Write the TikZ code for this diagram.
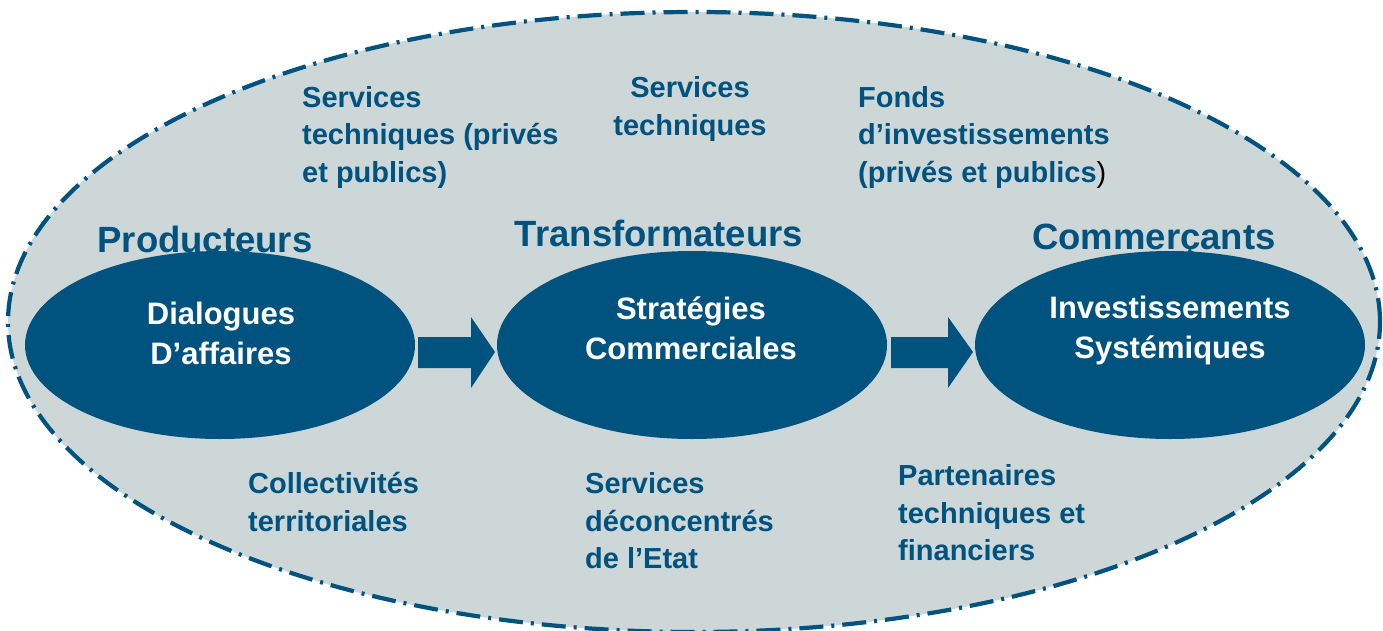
\documentclass[tikz,border=0pt]{standalone}
\usepackage{fontspec}
\setmainfont{Liberation Sans}
\usetikzlibrary{shapes.geometric}
\definecolor{dblue}{HTML}{00527F}
\definecolor{bggray}{HTML}{CDD7D8}
\tikzset{
  outerell/.style={ellipse, fill=bggray, draw=dblue, line width=4.2pt,
    dash pattern=on 24pt off 8pt on 3pt off 8pt, minimum width=1372pt, minimum height=620pt, inner sep=0pt},
  innerell/.style={ellipse, fill=dblue, draw=none, minimum width=390pt, minimum height=188pt, inner sep=0pt},
  innertxt/.style={text=white, font=\bfseries\fontsize{31}{40}\selectfont, align=center, inner sep=0pt},
  title/.style={text=dblue, font=\bfseries\fontsize{36.5}{40}\selectfont, inner sep=0pt},
  lbl/.style={text=dblue, font=\bfseries\fontsize{29}{37.5}\selectfont, align=left, inner sep=0pt, anchor=west},
  blockarrow/.style={fill=dblue, draw=none}
}
\begin{document}
\begin{tikzpicture}[x=1pt,y=-1pt]
\useasboundingbox (0,0) rectangle (1383,630);
\begin{scope}
\clip (0,0) rectangle (1383,630);
\node[outerell] (outer) at (694,322) {};
\end{scope}

\node[innerell] (L) at (220,345) {};
\node[innerell] (M) at (692,345) {};
\node[innerell] (R) at (1170,345) {};
\node[innertxt] (Lt) at (221,333) {Dialogues\\D’affaires};
\node[innertxt] (Mt) at (691,328) {Stratégies\\Commerciales};
\node[innertxt] (Rt) at (1170,330) {Investissements\\Systémiques};

% block arrows
\fill[blockarrow] (418,337) -- (471,337) -- (471,317) -- (495,352) -- (471,388) -- (471,368) -- (418,368) -- cycle;
\fill[blockarrow] (891,337) -- (948,337) -- (948,317) -- (973,352) -- (948,388) -- (948,368) -- (891,368) -- cycle;

\node[title] (tL) at (205,239) {Producteurs};
\node[title] (tM) at (659,233) {Transformateurs};
\node[title] (tR) at (1154,241) {Commerçants};

\node[lbl] (a1) at (302,137) {Services\\techniques (privés\\et publics)};
\node[lbl, align=center, anchor=center] (a2) at (690,109) {Services\\techniques};
\node[lbl] (a3) at (858,137) {Fonds\\d’investissements\\(privés et publics\textcolor{black}{\mdseries)}};

\node[lbl] (b1) at (248,502) {Collectivités\\territoriales};
\node[lbl] (b2) at (585,521) {Services\\déconcentrés\\de l’Etat};
\node[lbl] (b3) at (898,513) {Partenaires\\techniques et\\financiers};
\end{tikzpicture}
\end{document}
